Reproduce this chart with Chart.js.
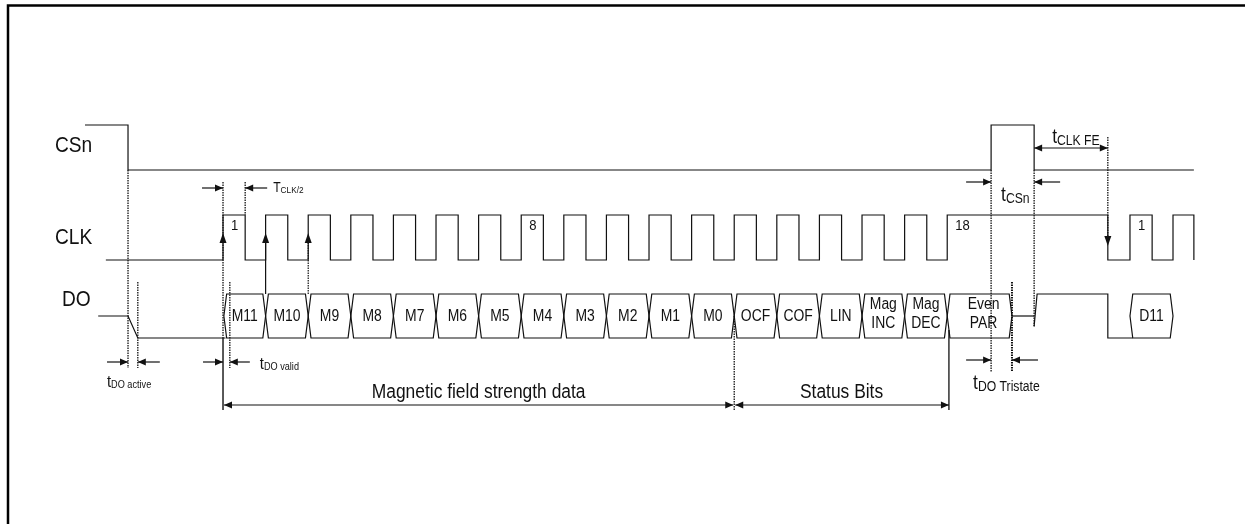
<!DOCTYPE html>
<html>
<head>
<meta charset="utf-8">
<script src="https://cdn.jsdelivr.net/npm/chart.js@4.4.1/dist/chart.umd.min.js"></script>
<style>
  html, body { margin: 0; padding: 0; background: #fff; }
  canvas { display: block; }
</style>
</head>
<body>
<canvas id="timing" width="1245" height="524"></canvas>
<script>
// all times in CLK periods, 0 = first rising CLK edge
const csnTimes  = [-3.24, -2.23, -2.23, 18.03, 18.03, 19.04, 19.04, 22.79];
const csnLevels = [1, 1, 0, 0, 1, 1, 0, 0];

const clkStart = -2.75;
const clkEdges = [0, 0.52, 1, 1.52, 2, 2.52, 3, 3.52, 4, 4.52, 5, 5.52, 6, 6.52, 7, 7.52,
  8, 8.52, 9, 9.52, 10, 10.52, 11, 11.52, 12, 12.52, 13, 13.52, 14, 14.52, 15, 15.52,
  16, 16.52, 17, 20.77, 21.29, 21.81, 22.30, 22.79];
const pulseNums = ['1', '8', '18', '1'];
const pulseAt   = [0, 7, 17, 21.29];

const doHeadTimes  = [-2.93, -2.23, -2.0, 0.06];
const doHeadLevels = [0.5, 0.5, 0, 0];
const doTriTimes   = [18.52, 19.04];
const doTriLevels  = [0.5, 0.5];
const doTailTimes  = [19.04, 19.11, 20.77, 20.77, 21.35];
const doTailLevels = [0.27, 1, 1, 0, 0];

const bitLabels = ['M11', 'M10', 'M9', 'M8', 'M7', 'M6', 'M5', 'M4', 'M3', 'M2', 'M1', 'M0',
  'OCF', 'COF', 'LIN', 'Mag\nINC', 'Mag\nDEC', 'Even\nPAR', 'D11'];
const bitStart = [0.02, 1, 2, 3, 4, 5, 6, 7, 8, 9, 10, 11, 12, 13, 14, 15, 16, 17, 21.29];
const bitEnd   = [1, 2, 3, 4, 5, 6, 7, 8, 9, 10, 11, 12, 13, 14, 15, 16, 17, 18.52, 22.30];

const sampleEdges = [0, 1, 2];          // DO -> CLK rising edge arrows
const tClkHalf    = [0, 0.52];
const tDoActive   = [-2.23, -2.0];
const tDoValid    = [0, 0.16];
const tCsn        = [18.03, 19.04];
const tClkFe      = [19.04, 20.77];
const tDoTristate = [18.03, 18.52];
const spanMag     = [0, 12];
const spanStatus  = [12, 17.04];

// layout
const RAIL = { csn: [170, 125], clk: [260, 215], dout: [338, 294] };
const SLANT = 0.065;
const SX = 0.87;
const INK = '#111';
const FONT = '"Liberation Sans", Arial, sans-serif';

const lvl = (rail, l) => RAIL[rail][0] + (RAIL[rail][1] - RAIL[rail][0]) * l;
const wave = (rail, times, levels) => times.map((t, i) => ({ x: t, y: lvl(rail, levels[i]) }));

function clkWave() {
  const pts = [{ x: clkStart, y: lvl('clk', 0) }];
  let l = 0;
  clkEdges.forEach((e) => {
    pts.push({ x: e, y: lvl('clk', l) });
    l = 1 - l;
    pts.push({ x: e, y: lvl('clk', l) });
  });
  return pts;
}

function bitBox(s, e) {
  const m = lvl('dout', 0.5), h = lvl('dout', 1), lo = lvl('dout', 0);
  return [{ x: s, y: m }, { x: s + SLANT, y: h }, { x: e - SLANT, y: h }, { x: e, y: m },
    { x: e - SLANT, y: lo }, { x: s + SLANT, y: lo }, { x: s, y: m }];
}

const lineDs = (data, w) => ({
  data, borderColor: INK, borderWidth: w || 1.2, pointRadius: 0, fill: false, tension: 0,
});

const datasets = [
  lineDs(wave('csn', csnTimes, csnLevels)),
  lineDs(clkWave()),
  lineDs(wave('dout', doHeadTimes, doHeadLevels)),
  lineDs(wave('dout', doTriTimes, doTriLevels)),
  lineDs(wave('dout', doTailTimes, doTailLevels)),
  ...bitStart.map((s, i) => lineDs(bitBox(s, bitEnd[i]))),
];

function txt(ctx, s, x, y, size, align) {
  ctx.save();
  ctx.font = size + 'px ' + FONT;
  const w = ctx.measureText(s).width * SX;
  const x0 = align === 'center' ? x - w / 2 : align === 'right' ? x - w : x;
  ctx.translate(x0, y);
  ctx.scale(SX, 1);
  ctx.textAlign = 'left';
  ctx.textBaseline = 'middle';
  ctx.fillStyle = INK;
  ctx.fillText(s, 0, 0);
  ctx.restore();
  return w;
}

function subTxt(ctx, main, sub, x, y, s1, s2) {
  const w = txt(ctx, main, x, y, s1, 'left');
  txt(ctx, sub, x + w, y + s1 * 0.2, s2, 'left');
}

function head(ctx, x, y, dir) {
  const L = 8, W = 3.5;
  ctx.beginPath();
  ctx.moveTo(x, y);
  if (dir === 'right') { ctx.lineTo(x - L, y - W); ctx.lineTo(x - L, y + W); }
  if (dir === 'left')  { ctx.lineTo(x + L, y - W); ctx.lineTo(x + L, y + W); }
  if (dir === 'up')    { ctx.lineTo(x - W, y + L + 2); ctx.lineTo(x + W, y + L + 2); }
  if (dir === 'down')  { ctx.lineTo(x - W, y - L - 2); ctx.lineTo(x + W, y - L - 2); }
  ctx.closePath();
  ctx.fill();
}

function seg(ctx, x0, y0, x1, y1, w, dash) {
  ctx.save();
  ctx.lineWidth = w || 1.2;
  ctx.setLineDash(dash || []);
  ctx.beginPath();
  ctx.moveTo(x0, y0);
  ctx.lineTo(x1, y1);
  ctx.stroke();
  ctx.restore();
}

// arrows coming from outside onto two guide lines
function pinch(ctx, xa, xb, y, tailA, tailB) {
  seg(ctx, xa - tailA, y, xa, y);
  head(ctx, xa, y, 'right');
  seg(ctx, xb + tailB, y, xb, y);
  head(ctx, xb, y, 'left');
}

function span(ctx, xa, xb, y) {
  seg(ctx, xa, y, xb, y);
  head(ctx, xa, y, 'left');
  head(ctx, xb, y, 'right');
}

const diagram = {
  id: 'diagram',
  beforeDraw(chart) {
    const ctx = chart.ctx;
    ctx.save();
    ctx.fillStyle = '#fff';
    ctx.fillRect(0, 0, chart.width, chart.height);
    ctx.strokeStyle = '#000';
    ctx.lineWidth = 2.5;
    ctx.strokeRect(8, 5.5, chart.width + 20, chart.height + 20);
    ctx.restore();
  },
  afterDatasetsDraw(chart) {
    const ctx = chart.ctx;
    const X = (t) => chart.scales.x.getPixelForValue(t);
    ctx.save();
    ctx.strokeStyle = INK;
    ctx.fillStyle = INK;
    const dot = [1.5, 1];

    // guide lines
    seg(ctx, X(tDoActive[0]), 170, X(tDoActive[0]), 368, 1.3, dot);
    seg(ctx, X(tDoActive[1]), 282, X(tDoActive[1]), 368, 1.3, dot);
    seg(ctx, X(tClkHalf[0]), 182, X(tClkHalf[0]), 338, 1.3, dot);
    seg(ctx, X(spanMag[0]), 338, X(spanMag[0]), 410, 1.4);
    seg(ctx, X(tDoValid[1]), 282, X(tDoValid[1]), 368, 1.3, dot);
    seg(ctx, X(tClkHalf[1]), 182, X(tClkHalf[1]), 215, 1.3, dot);
    seg(ctx, X(spanStatus[0]), 316, X(spanStatus[0]), 410, 1.3, dot);
    seg(ctx, X(spanStatus[1]), 330, X(spanStatus[1]), 410, 1.3);
    seg(ctx, X(tCsn[0]), 170, X(tCsn[0]), 372, 1.3, dot);
    seg(ctx, X(tDoTristate[1]), 282, X(tDoTristate[1]), 372, 2, dot);
    seg(ctx, X(tCsn[1]), 170, X(tCsn[1]), 327, 1.3, dot);

    // DO sampled on rising CLK edges
    sampleEdges.forEach((t, i) => {
      const x = X(t);
      if (i > 0) seg(ctx, x, 294, x, 236, 1.2, i === 2 ? dot : []);
      head(ctx, x, 233, 'up');
    });

    // tCLK FE falling edge arrow
    seg(ctx, X(tClkFe[1]), 137, X(tClkFe[1]), 240, 1.3, dot);
    head(ctx, X(tClkFe[1]), 246, 'down');

    // dimensions
    pinch(ctx, X(tClkHalf[0]), X(tClkHalf[1]), 188, 21, 22);
    pinch(ctx, X(tDoActive[0]), X(tDoActive[1]), 362, 21, 22);
    pinch(ctx, X(tDoValid[0]), X(tDoValid[1]), 362, 20, 20);
    pinch(ctx, X(tCsn[0]), X(tCsn[1]), 182, 25, 26);
    pinch(ctx, X(tDoTristate[0]), X(tDoTristate[1]), 360, 25, 26);
    span(ctx, X(tClkFe[0]), X(tClkFe[1]), 148);
    span(ctx, X(spanMag[0]) + 1, X(spanMag[1]) - 1, 405);
    span(ctx, X(spanStatus[0]) + 1, X(spanStatus[1]), 405);

    // signal names
    txt(ctx, 'CSn', 55, 146, 22, 'left');
    txt(ctx, 'CLK', 55, 238, 22, 'left');
    txt(ctx, 'DO', 62, 300, 22, 'left');

    // pulse numbers
    pulseNums.forEach((n, i) => txt(ctx, n, X(pulseAt[i]) + 8, 226, 15, 'left'));

    // bit names
    bitLabels.forEach((b, i) => {
      const cx = (X(bitStart[i]) + X(bitEnd[i])) / 2 + (i === 17 ? 4 : 0);
      const lines = b.split('\n');
      if (lines.length === 1) txt(ctx, b, cx, 317, 16, 'center');
      else {
        txt(ctx, lines[0], cx, 305, 16, 'center');
        txt(ctx, lines[1], cx, 324, 16, 'center');
      }
    });

    // timing labels
    subTxt(ctx, 'T', 'CLK/2', X(tClkHalf[1]) + 28, 188, 14, 9.5);
    subTxt(ctx, 't', 'DO active', X(tDoActive[0]) - 21, 382, 17, 10.5);
    subTxt(ctx, 't', 'DO valid', X(tDoValid[1]) + 30, 364, 17, 10.5);
    subTxt(ctx, 't', 'CSn', X(tCsn[0]) + 10, 195, 20, 14);
    subTxt(ctx, 't', 'CLK FE', X(tClkFe[0]) + 18, 137, 20, 14);
    subTxt(ctx, 't', 'DO Tristate', X(tDoTristate[0]) - 18, 383, 20, 14);
    txt(ctx, 'Magnetic field strength data', X((spanMag[0] + spanMag[1]) / 2), 392, 20, 'center');
    txt(ctx, 'Status Bits', X((spanStatus[0] + spanStatus[1]) / 2), 392, 20, 'center');
    ctx.restore();
  },
};

new Chart(document.getElementById('timing'), {
  type: 'line',
  data: { datasets },
  options: {
    responsive: false,
    animation: false,
    devicePixelRatio: 1,
    layout: { padding: 0 },
    scales: {
      x: { type: 'linear', min: -5.235, max: 23.99, display: false },
      y: { type: 'linear', min: 0, max: 524, reverse: true, display: false },
    },
    plugins: { legend: { display: false }, tooltip: { enabled: false } },
  },
  plugins: [diagram],
});
</script>
</body>
</html>
